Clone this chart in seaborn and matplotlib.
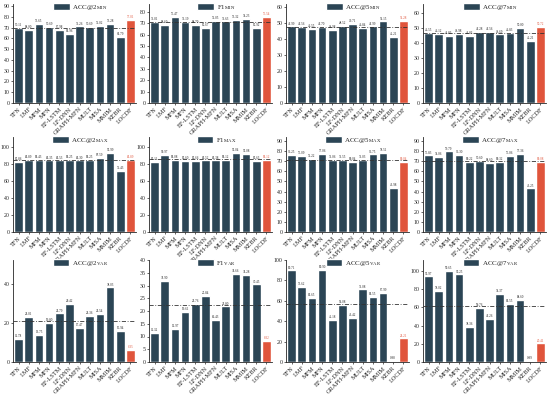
import matplotlib
matplotlib.use("Agg")
import matplotlib.pyplot as plt
import seaborn as sns
import pandas as pd
import numpy as np
from matplotlib.patches import Patch

sns.set_style("ticks")
plt.rcParams['font.family'] = ['Liberation Serif', 'DejaVu Serif']
plt.rcParams['mathtext.fontset'] = 'stix'

models = ["TFN", "LMF", "MFM", "MFN", "EF-LSTM", "LF-DNN", "GRAPH-MFN",
          "MULT", "MISA", "MMIM", "KEBR", "LOCDF"]

acc2_min = [70.11, 68.00, 73.65, 70.69, 67.98, 63.96, 71.26, 70.69, 72.02, 73.28, 61.79, 77.01]
f1_min = [71.01, 68.60, 75.47, 71.19, 68.70, 65.67, 72.05, 71.63, 73.32, 74.23, 65.92, 75.54]
acc5_min = [47.99, 47.56, 46.55, 47.70, 45.98, 48.52, 49.71, 46.84, 47.99, 51.15, 41.21, 51.28]
acc7_min = [46.55, 46.12, 44.83, 45.98, 44.83, 47.28, 47.56, 45.69, 46.83, 50.00, 41.21, 50.72]

acc2_max = [82.86, 84.89, 85.43, 84.35, 84.53, 85.25, 84.30, 85.25, 87.59, 92.99, 72.43, 84.89]
f1_max = [83.11, 90.97, 85.08, 83.60, 83.66, 84.52, 84.38, 85.12, 93.04, 92.08, 83.63, 85.12]
acc5_max = [76.25, 75.09, 72.22, 77.06, 71.06, 71.55, 69.04, 71.03, 76.75, 78.51, 43.98, 69.04]
acc7_max = [75.83, 74.06, 79.79, 76.30, 69.22, 70.60, 68.60, 69.32, 75.06, 77.36, 43.25, 69.08]

acc2_var = [11.78, 23.01, 13.75, 19.80, 24.79, 29.42, 17.47, 23.36, 24.54, 38.03, 15.94, 6.35]
f1_var = [11.32, 31.90, 12.97, 19.61, 22.76, 25.84, 16.43, 21.80, 34.66, 34.28, 30.45, 8.32]
acc5_var = [89.71, 73.62, 62.65, 89.90, 41.18, 56.08, 43.42, 71.08, 63.55, 67.99, 0.98, 23.21]
acc7_var = [93.97, 78.02, 99.65, 96.25, 38.36, 59.76, 47.26, 74.37, 63.55, 68.60, 0.89, 20.41]

titles = [r"ACC@2$_{\mathrm{MIN}}$", r"F1$_{\mathrm{MIN}}$", r"ACC@5$_{\mathrm{MIN}}$", r"ACC@7$_{\mathrm{MIN}}$",
          r"ACC@2$_{\mathrm{MAX}}$", r"F1$_{\mathrm{MAX}}$", r"ACC@5$_{\mathrm{MAX}}$", r"ACC@7$_{\mathrm{MAX}}$",
          r"ACC@2$_{\mathrm{VAR}}$", r"F1$_{\mathrm{VAR}}$", r"ACC@5$_{\mathrm{VAR}}$", r"ACC@7$_{\mathrm{VAR}}$"]
series = [acc2_min, f1_min, acc5_min, acc7_min,
          acc2_max, f1_max, acc5_max, acc7_max,
          acc2_var, f1_var, acc5_var, acc7_var]
ylims = [92, 87, 62, 66, 112, 112, 94, 94, 52, 40, 100, 112]
ysteps = [10, 10, 10, 10, 20, 20, 10, 10, 20, 5, 20, 20]

dark = "#2B4555"
red = "#E0553C"
palette = {m: (red if m == "LOCDF" else dark) for m in models}

W, H = 550, 394
fig = plt.figure(figsize=(5.5, 3.94), dpi=100)

col_left = [13, 149, 286, 423]
col_w = 123
rows = [(4, 103), (137, 232), (260, 362)]

for i, (title, vals) in enumerate(zip(titles, series)):
    r, c = divmod(i, 4)
    top, bot = rows[r]
    ax = fig.add_axes([col_left[c] / W, 1 - bot / H, col_w / W, (bot - top) / H])
    df = pd.DataFrame({"model": models, "value": vals})
    sns.barplot(data=df, x="model", y="value", hue="model", palette=palette,
                legend=False, width=0.86, ax=ax, saturation=1)
    ax.set_ylim(0, ylims[i])
    ax.set_xlim(-0.55, len(models) - 0.45)
    ax.set_yticks(np.arange(0, ylims[i] + 0.01, ysteps[i]))
    ax.set_xlabel("")
    ax.set_ylabel("")
    ax.tick_params(axis='y', labelsize=4.2, length=1.5, width=0.5, pad=1)
    ax.tick_params(axis='x', labelsize=4.5, length=1.5, width=0.5, pad=1)
    for lbl in ax.get_xticklabels():
        lbl.set_rotation(45)
        lbl.set_ha('right')
        lbl.set_rotation_mode('anchor')
    for s in ['left', 'bottom']:
        ax.spines[s].set_linewidth(0.6)
    sns.despine(ax=ax)
    mean = float(np.mean(vals))
    ax.axhline(mean, ls=(0, (5, 2, 1, 2)), color="#333333", lw=0.6, zorder=3)
    for j, v in enumerate(vals):
        ax.text(j, v + ylims[i] * 0.008, f"{v:.2f}", ha='center', va='bottom',
                fontsize=2.3, color=(red if models[j] == "LOCDF" else "#222222"))
    ax.legend(handles=[Patch(facecolor=dark, label=title)], loc='upper center',
              bbox_to_anchor=(0.55, 1.02), frameon=False, fontsize=5,
              handlelength=2.4, handleheight=1.1, handletextpad=0.4,
              borderaxespad=0.0, borderpad=0.1)

fig.savefig("out.png", dpi=100)
